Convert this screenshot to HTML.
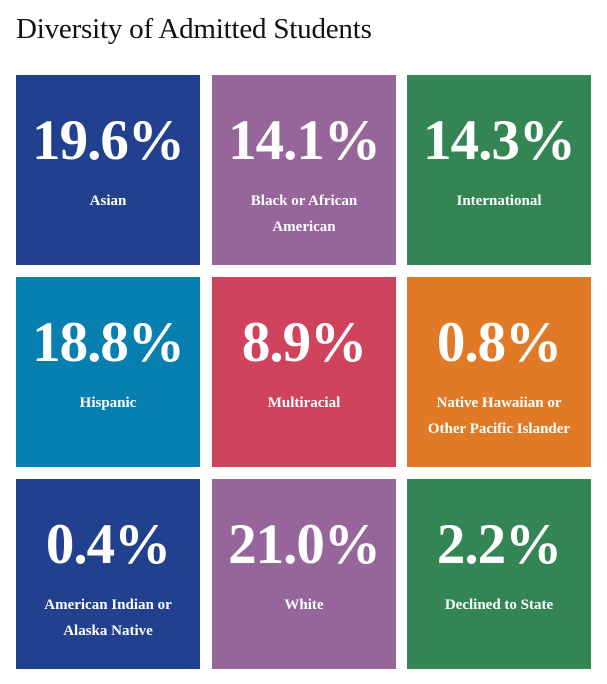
<!DOCTYPE html>
<html><head><style>
body{margin:0;width:607px;height:684px;background:#fff;font-family:"Liberation Serif",serif;position:relative;overflow:hidden}
h1{position:absolute;left:16px;top:12px;margin:0;font-size:29px;line-height:34px;font-weight:normal;color:#111;letter-spacing:-0.2px}
.t{position:absolute;width:184px;height:190px;color:#fff;text-align:center}
.n{position:absolute;left:0;right:0;top:66px;line-height:0;font-size:57px;font-weight:bold;letter-spacing:-1px}
.l{position:absolute;left:0;right:0;top:113px;font-size:15px;font-weight:bold;line-height:26px}
</style></head><body>
<h1>Diversity of Admitted Students</h1>
<div class="t" style="left:16px;top:75px;background:#21418f"><div class="n">19.6%</div><div class="l">Asian</div></div>
<div class="t" style="left:212px;top:75px;background:#96669a"><div class="n">14.1%</div><div class="l">Black or African<br>American</div></div>
<div class="t" style="left:407px;top:75px;background:#338554"><div class="n">14.3%</div><div class="l">International</div></div>
<div class="t" style="left:16px;top:277px;background:#077fb1"><div class="n">18.8%</div><div class="l">Hispanic</div></div>
<div class="t" style="left:212px;top:277px;background:#d0435c"><div class="n">8.9%</div><div class="l">Multiracial</div></div>
<div class="t" style="left:407px;top:277px;background:#e07a27"><div class="n">0.8%</div><div class="l">Native Hawaiian or<br>Other Pacific Islander</div></div>
<div class="t" style="left:16px;top:479px;background:#21418f"><div class="n">0.4%</div><div class="l">American Indian or<br>Alaska Native</div></div>
<div class="t" style="left:212px;top:479px;background:#96669a"><div class="n">21.0%</div><div class="l">White</div></div>
<div class="t" style="left:407px;top:479px;background:#338554"><div class="n">2.2%</div><div class="l">Declined to State</div></div>
</body></html>
